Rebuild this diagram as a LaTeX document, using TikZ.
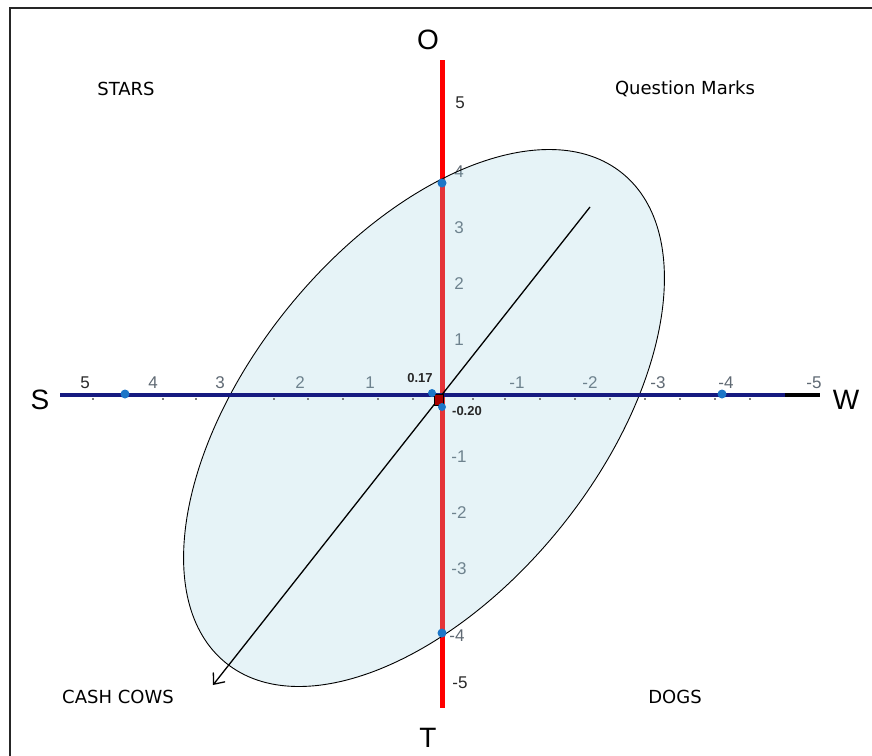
\documentclass[tikz,border=0pt]{standalone}
\usepackage{fontspec}
\setmainfont{Liberation Sans}
\newfontfamily\qfont{DejaVu Sans}
\usetikzlibrary{arrows.meta}
\definecolor{axred}{RGB}{255,0,0}
\definecolor{axnavy}{RGB}{22,26,128}
\definecolor{ellfill}{RGB}{155,207,223}
\definecolor{dotblue}{RGB}{28,118,200}
\definecolor{ctrred}{RGB}{170,0,0}
\definecolor{gtxt}{RGB}{95,105,115}
\definecolor{dtxt}{RGB}{40,40,40}
\tikzset{
  numlab/.style={font=\fontsize{17}{17}\selectfont, text=gtxt, inner sep=0pt},
  numdark/.style={font=\fontsize{17}{17}\selectfont, text=dtxt, inner sep=0pt},
  axlet/.style={font=\fontsize{28}{28}\selectfont, text=black, inner sep=0pt},
  quad/.style={font=\qfont\fontsize{18}{18}\selectfont, text=black, inner sep=0pt},
  smalllab/.style={font=\fontsize{13}{13}\selectfont\bfseries, text=dtxt, inner sep=0pt},
  dot/.style={circle, fill=dotblue, inner sep=0pt, minimum size=9pt},
  tickmark/.style={fill=gray, inner sep=0pt, minimum width=2pt, minimum height=2pt},
  ellstyle/.style={draw=black, line width=0.9pt, fill=ellfill, fill opacity=0.25}
}
\begin{document}
\begin{tikzpicture}[x=1pt,y=-1pt]
\useasboundingbox (0,0) rectangle (872,755);
% frame
\coordinate (fbl) at (9.5,770);
\coordinate (ftl) at (9.5,8);
\coordinate (ftr) at (890,8);
\draw[line width=2pt, black!85] (fbl) -- (ftl) -- (ftr);

% axis coordinates
\coordinate (Otop) at (442,60);
\coordinate (Tbot) at (442,708);
\coordinate (Sl) at (60,395);
\coordinate (navyend) at (785,395);
\coordinate (Wr) at (820,395);

% red axis
\draw[axred, line width=5pt] (Otop) -- (Tbot);

% horizontal tick labels
\node[numdark] (h5) at (85,383) {5};
\node[numlab] (h4) at (153,383) {4};
\node[numlab] (h3) at (220,383) {3};
\node[numlab] (h2) at (300,383) {2};
\node[numlab] (h1) at (370,383) {1};
\node[numlab] (hm1) at (517,383) {-1};
\node[numlab] (hm2) at (590,383) {-2};
\node[numlab] (hm3) at (658,383) {-3};
\node[numlab] (hm4) at (726,383) {-4};
\node[numlab] (hm5) at (814,383) {-5};

% vertical tick labels
\node[numdark] (v5) at (460,103) {5};
\node[numlab] (v4) at (459,172) {4};
\node[numlab] (v3) at (459,228) {3};
\node[numlab] (v2) at (459,284) {2};
\node[numlab] (v1) at (459,340) {1};
\node[numlab] (vm1) at (459,457) {-1};
\node[numlab] (vm2) at (459,513) {-2};
\node[numlab] (vm3) at (459,569) {-3};
\node[numlab] (vm4) at (457,636) {-4};
\node[numdark] (vm5) at (460,683) {-5};

% ellipse
\draw[ellstyle, rotate around={51:(424,418)}] (424,418) ellipse [x radius=315pt, y radius=175pt];

% horizontal axis
\draw[axnavy, line width=4pt] (Sl) -- (navyend);
\draw[black, line width=4pt] (navyend) -- (Wr);

% small ticks
\foreach \t [count=\i] in {93,163,196,274,308,343,378,413,473,505,540,575,610,645,680,715,750}{
  \node[tickmark] (tk\i) at (\t,398.5) {};
}

% axis letters
\node[axlet] (S) at (40,400) {S};
\node[axlet] (W) at (846,400) {W};
\node[axlet] (O) at (428,40) {O};
\node[axlet] (T) at (428,738) {T};

% diagonal arrow
\coordinate (dtop) at (590,207);
\coordinate (dtip) at (213,685);
\draw[line width=1.3pt, -{Straight Barb[length=9pt,width=15pt,line width=1.3pt]}] (dtop) -- (dtip);

% centre marker and dots
\node[draw=black, fill=ctrred, line width=0.6pt, minimum width=9pt, minimum height=11pt, inner sep=0pt] (ctr) at (438.5,400) {};
\node[dot, minimum size=8pt] (dc1) at (432,393) {};
\node[dot, minimum size=8pt] (dc2) at (442,407) {};
\node[dot] (d1) at (125,394) {};
\node[dot] (d2) at (722,394) {};
\node[dot] (d3) at (442,183) {};
\node[dot] (d4) at (442,633) {};

% small labels
\node[smalllab] (l017) at (420,378) {0.17};
\node[smalllab] (l020) at (467,411) {-0.20};

% quadrant labels
\node[quad] (stars) at (126,89) {STARS};
\node[quad] (qm) at (685,89) {Question Marks};
\node[quad] (cc) at (118,697) {CASH COWS};
\node[quad] (dogs) at (675,697) {DOGS};
\end{tikzpicture}
\end{document}
